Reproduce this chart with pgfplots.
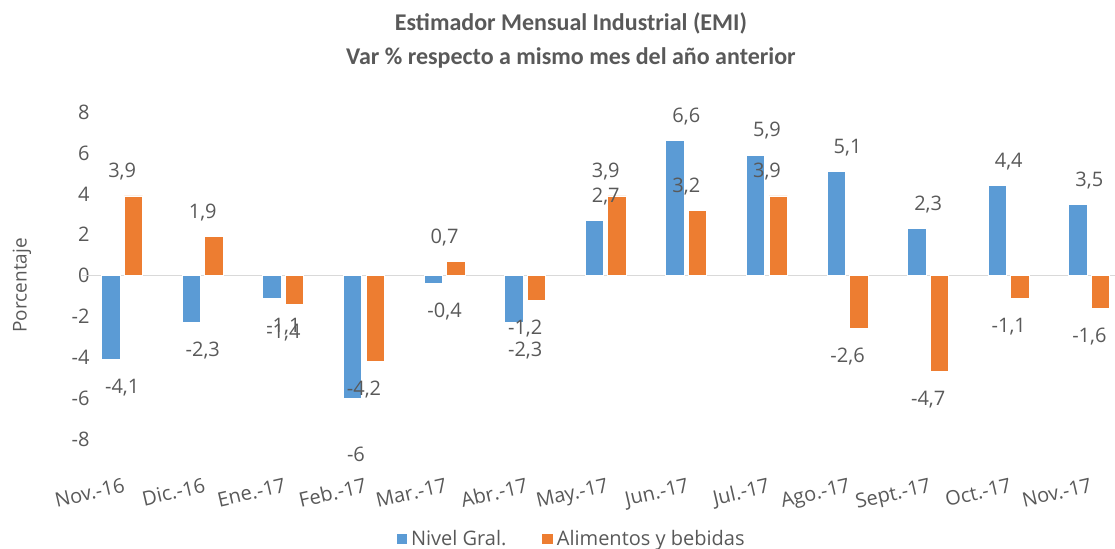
\documentclass[border=0pt]{standalone}
\usepackage{fontspec}
\setmainfont{Open Sans}
\newfontfamily\titlefont{Carlito}
\usepackage{pgfplots}
\pgfplotsset{compat=1.18}
\usepackage{pgfplotstable}
\definecolor{cblue}{HTML}{5B9BD5}
\definecolor{corange}{HTML}{ED7D31}
\definecolor{ctext}{HTML}{595959}
\definecolor{czero}{HTML}{D9D9D9}

\pgfplotstableread{
x y dx dy
0 -4.1 0 -14
1 -2.3 0 -14
2 -1.1 0 -14
3 -6 -4 -28
4 -0.4 0 -14
5 -2.3 0 -14
6 2.7 0 12
7 6.6 0 12
8 5.9 0 12
9 5.1 0 12
10 2.3 0 12
11 4.4 0 12
12 3.5 0 12
}\nivel

\pgfplotstableread{
x y dx dy
0 3.9 0 12
1 1.9 0 12
2 -1.4 0 -14
3 -4.2 0 -14
4 0.7 0 12
5 -1.2 0 -14
6 3.9 0 12
7 3.2 0 12
8 3.9 0 12
9 -2.6 0 -14
10 -4.7 0 -14
11 -1.1 0 -14
12 -1.6 0 -14
}\alim

\newcommand{\lf}{\fontsize{10}{12}\selectfont}

\begin{document}
\begin{tikzpicture}
\begin{axis}[
  x=40.3pt, y=10.225pt,
  xmin=-0.5, xmax=12.318, ymin=-8, ymax=8,
  enlargelimits=false,
  clip=false,
  axis line style={draw=none},
  tick style={draw=none},
  /pgf/number format/assume math mode=true,
  /pgf/number format/use comma,
  ytick={-8,-6,...,8},
  xtick={0,...,12},
  xticklabels={Nov.-16,Dic.-16,Ene.-17,Feb.-17,Mar.-17,Abr.-17,May.-17,Jun.-17,Jul.-17,Ago.-17,Sept.-17,Oct.-17,Nov.-17},
  ticklabel style={font=\lf, text=ctext},
  xticklabel style={rotate=13, anchor=north east, inner sep=0pt, xshift=-4pt, yshift=-18.5pt},
  yticklabel style={anchor=east, inner sep=0pt, xshift=4pt},
  extra y ticks={0},
  extra y tick labels={},
  extra y tick style={grid=major, major grid style={draw=czero, line width=0.8pt}},
  ylabel={Porcentaje},
  ylabel style={at={(axis description cs:-0.058,0.47)}, anchor=center, font=\fontsize{9.5}{11}\selectfont, text=ctext},
  legend columns=2,
  legend style={draw=none, fill=none, at={(axis description cs:0.475,-0.305)}, anchor=center, font=\lf, text=ctext,
    /tikz/every even column/.append style={column sep=16pt}},
]
\addplot[ybar, bar width=9.2pt, bar shift=-5.65pt, fill=cblue, draw=white, line width=0.4pt,
  legend image code/.code={\fill[cblue] (0pt,-2.4pt) rectangle (4.8pt,2.4pt);},
  point meta=y,
  visualization depends on={\thisrow{dx} \as \myDX},
  visualization depends on={\thisrow{dy} \as \myDY},
  nodes near coords={\pgfmathprintnumber{\pgfplotspointmeta}},
  nodes near coords align={center},
  every node near coord/.append style={anchor=center, font=\lf, text=ctext, xshift=\myDX pt, yshift=\myDY pt}]
  table[x=x, y=y] {\nivel};
\addlegendentry{Nivel Gral.}
\addplot[ybar, bar width=9.2pt, bar shift=5.65pt, fill=corange, draw=white, line width=0.4pt,
  legend image code/.code={\fill[corange] (0pt,-2.4pt) rectangle (4.8pt,2.4pt);},
  point meta=y,
  visualization depends on={\thisrow{dx} \as \myDX},
  visualization depends on={\thisrow{dy} \as \myDY},
  nodes near coords={\pgfmathprintnumber{\pgfplotspointmeta}},
  nodes near coords align={center},
  every node near coord/.append style={anchor=center, font=\lf, text=ctext, xshift=\myDX pt, yshift=\myDY pt}]
  table[x=x, y=y] {\alim};
\addlegendentry{Alimentos y bebidas}
\node[font=\titlefont\bfseries\fontsize{12}{17}\selectfont, text=ctext, align=center] at (axis cs:5.568,11.48)
  {Estimador Mensual Industrial (EMI)\\Var \% respecto a mismo mes del año anterior};
\coordinate (bbsw) at (axis cs:-1.516,-13.36);
\coordinate (bbne) at (axis cs:12.318,13.48);
\end{axis}
\pgfresetboundingbox
\path[use as bounding box] (bbsw) rectangle (bbne);
\end{tikzpicture}
\end{document}
